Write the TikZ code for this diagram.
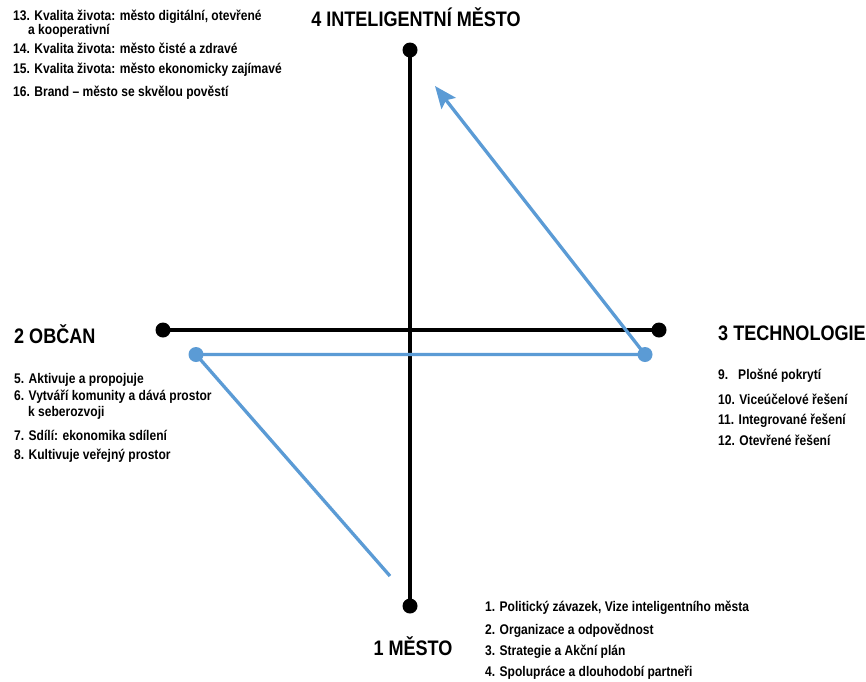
\documentclass[tikz,border=0pt]{standalone}
\usepackage{fontspec}
\usetikzlibrary{arrows.meta}
\setmainfont{Liberation Sans}[FakeStretch=0.86]
\definecolor{axblue}{RGB}{91,155,213}
\begin{document}
\begin{tikzpicture}[x=1pt,y=-1pt,
  item/.style={anchor=west,inner sep=0pt,font=\bfseries\fontsize{14}{16}\selectfont},
  head/.style={inner sep=0pt,font=\bfseries\fontsize{21}{24}\selectfont},
  axis/.style={line width=3.5pt,black},
  bdot/.style={circle,fill=black,inner sep=0pt,minimum size=15pt},
  udot/.style={circle,fill=axblue,inner sep=0pt,minimum size=15pt},
  blue/.style={line width=3.3pt,axblue}]
\useasboundingbox (0,0) rectangle (866,681);
% axes
\node[bdot] (top) at (410,50) {};
\node[bdot] (bot) at (410,606) {};
\node[bdot] (lft) at (163,330) {};
\node[bdot] (rgt) at (659,330) {};
\draw[axis] (top.center) -- (bot.center);
\draw[axis] (lft.center) -- (rgt.center);
% blue path
\node[udot] (A) at (196,354.5) {};
\node[udot] (B) at (645,354.5) {};
\coordinate (S) at (390,576);
\coordinate (T) at (435,86);
\draw[blue] (S) -- (A.center) -- (B.center);
\draw[blue,-{Stealth[length=22pt,width=18pt,inset=4pt]}] (B.center) -- (T);
% headings
\node[head] (h4) at (416,17) {4 INTELIGENTNÍ MĚSTO};
\node[head,anchor=west] (h2) at (14,334) {2 OBČAN};
\node[head,anchor=west] (h3) at (718,333) {3 TECHNOLOGIE};
\node[head] (h1) at (413,646) {1 MĚSTO};
% top-left list
\node[item] (i13) at (13,17) {13. Kvalita života: město digitální, otevřené};
\node[item] (i13b) at (28,31) {a kooperativní};
\node[item] (i14) at (13,48) {14. Kvalita života: město čisté a zdravé};
\node[item] (i15) at (13,70) {15. Kvalita života: město ekonomicky zajímavé};
\node[item] (i16) at (13,93) {16. Brand – město se skvělou pověstí};
% left list
\node[item] (i5) at (14,380) {5. Aktivuje a propojuje};
\node[item] (i6) at (14,397) {6. Vytváří komunity a dává prostor};
\node[item] (i6b) at (28,413) {k seberozvoji};
\node[item] (i7) at (14,435) {7. Sdílí: ekonomika sdílení};
\node[item] (i8) at (14,456) {8. Kultivuje veřejný prostor};
% right list
\node[item] (i9) at (718,376) {9.\hspace{10pt}Plošné pokrytí};
\node[item] (i10) at (718,399) {10. Viceúčelové řešení};
\node[item] (i11) at (718,421) {11. Integrované řešení};
\node[item] (i12) at (718,440) {12. Otevřené řešení};
% bottom list
\node[item] (i1) at (485,608) {1. Politický závazek, Vize inteligentního města};
\node[item] (i2) at (485,631) {2. Organizace a odpovědnost};
\node[item] (i3) at (485,652) {3. Strategie a Akční plán};
\node[item] (i4) at (485,673) {4. Spolupráce a dlouhodobí partneři};
\end{tikzpicture}
\end{document}
